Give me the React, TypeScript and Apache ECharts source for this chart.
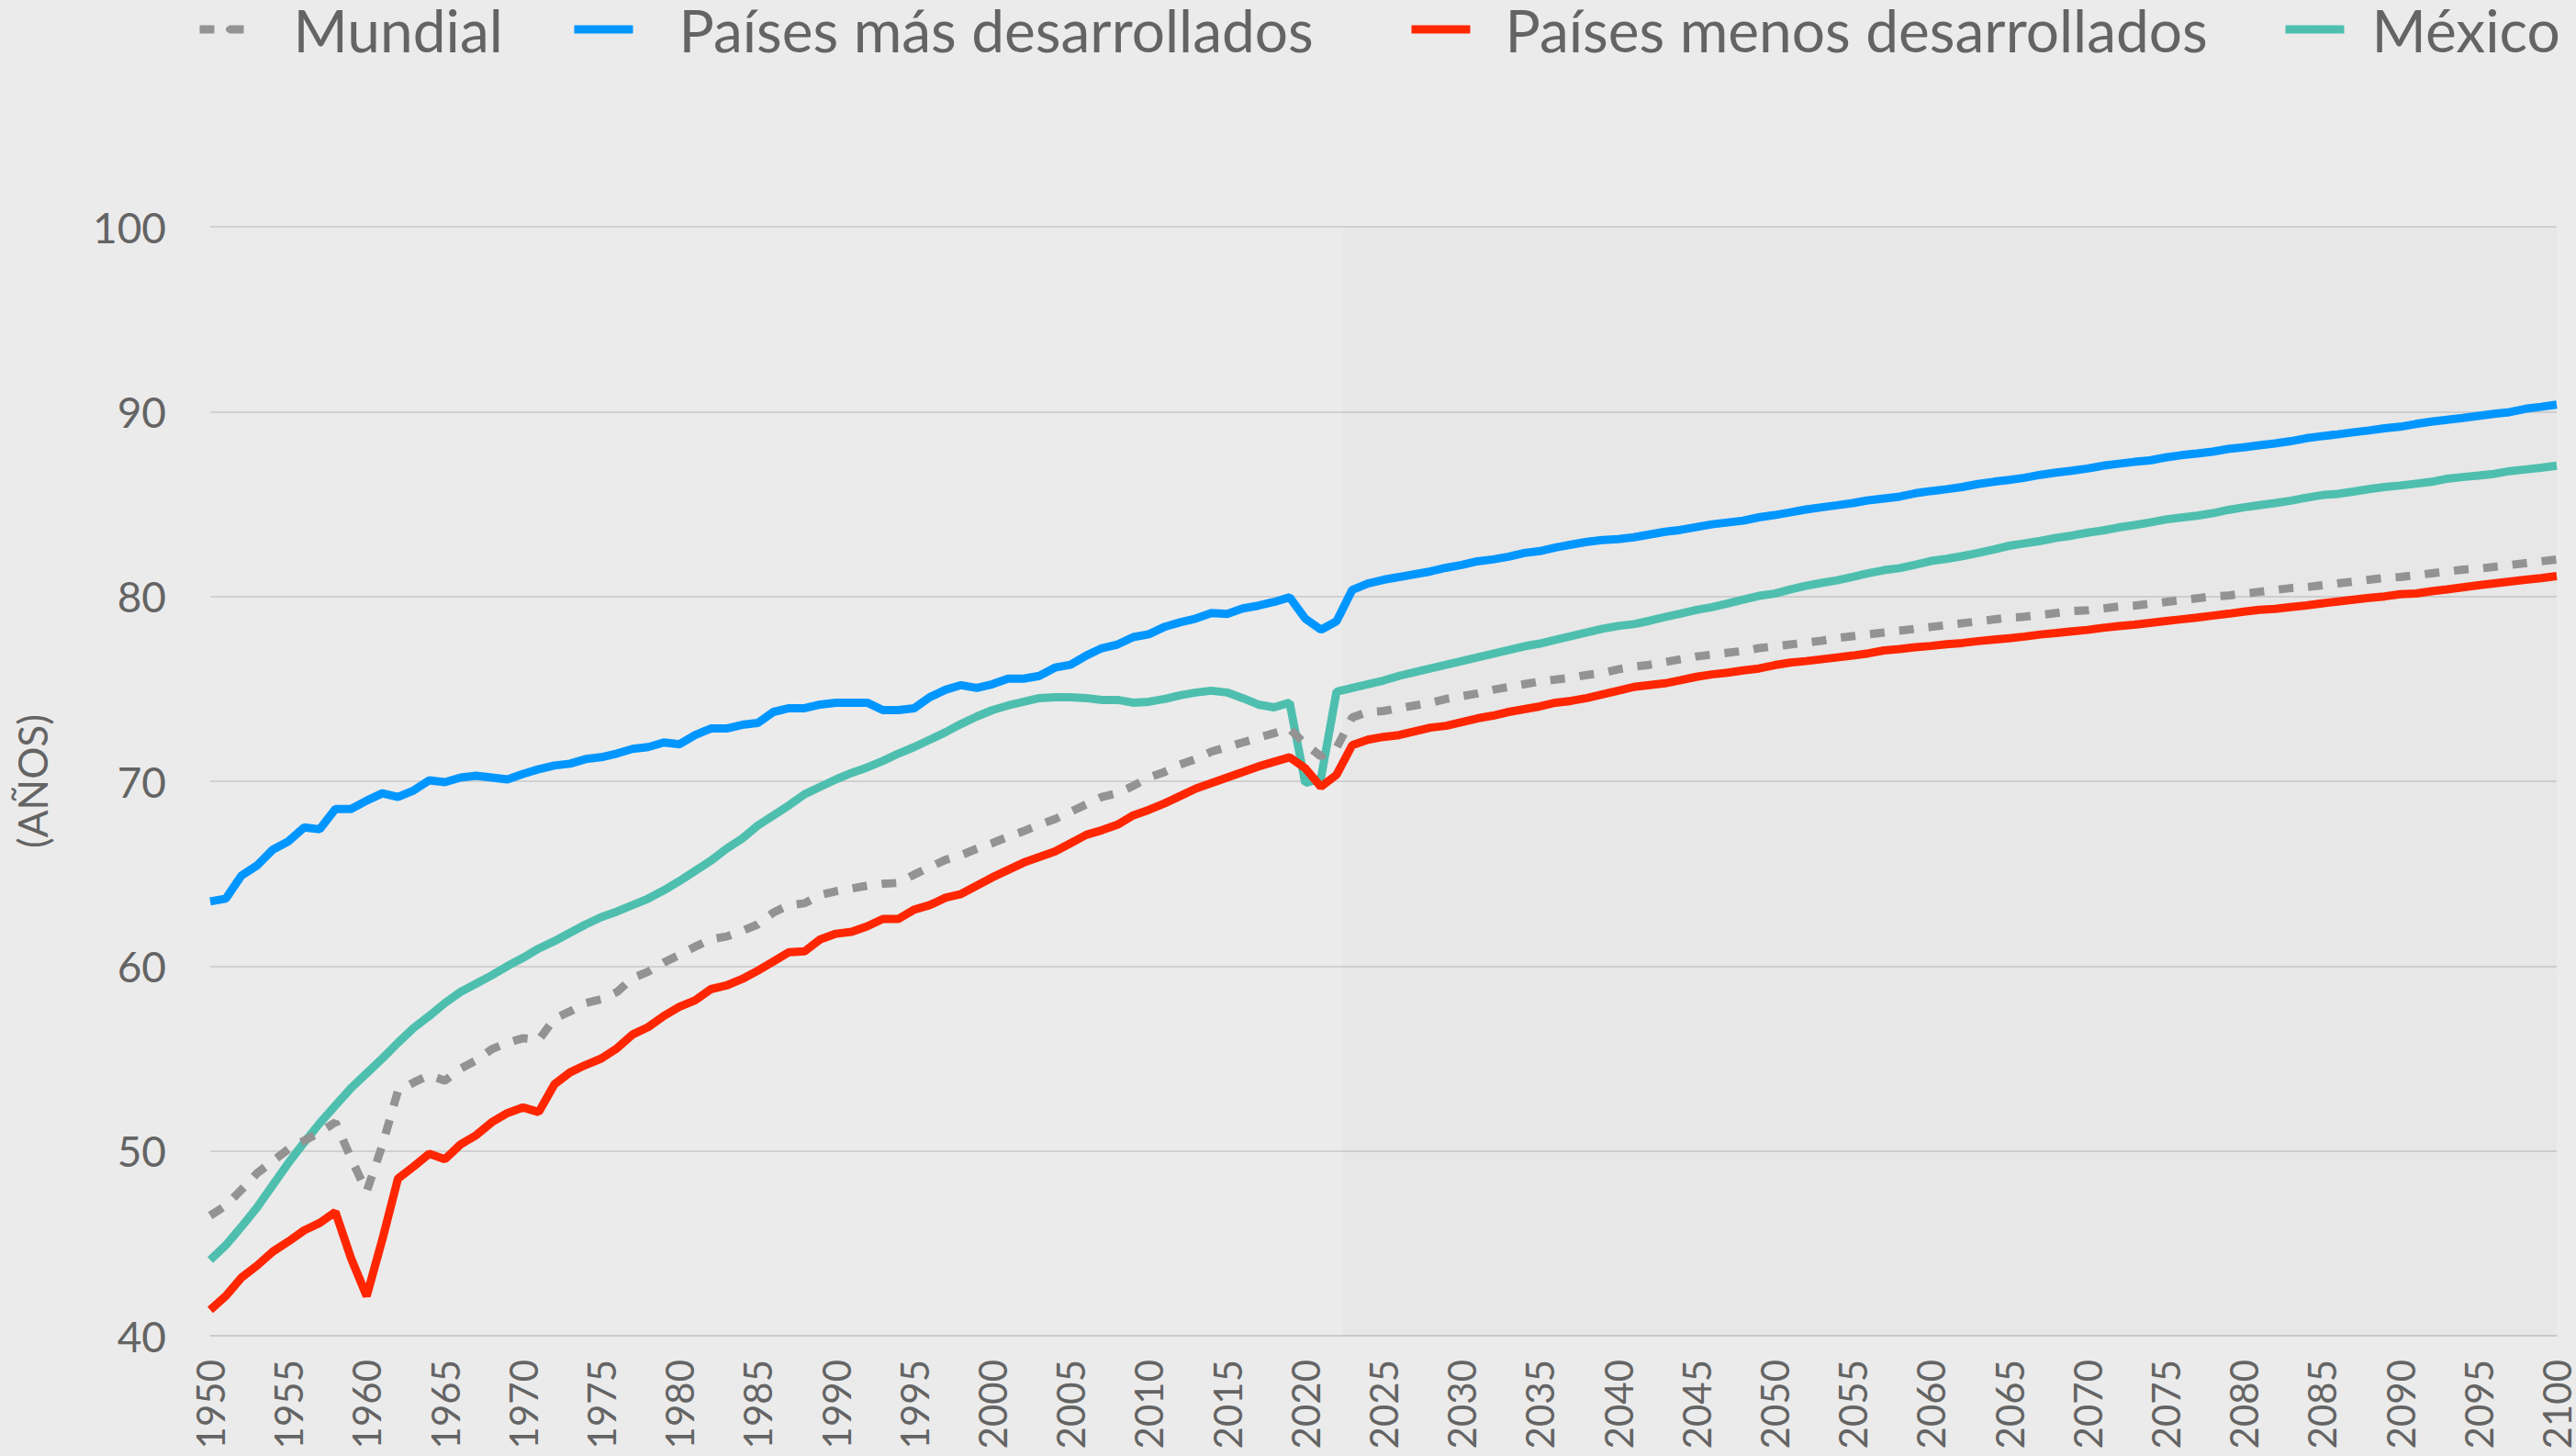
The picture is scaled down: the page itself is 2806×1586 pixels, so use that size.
import React, { useEffect, useRef } from "react";
import * as echarts from "echarts";

const START_YEAR = 1950;
const END_YEAR = 2100;
const PROJECTION_START = 2022.4;

const seriesNames = ["Mundial", "Países más desarrollados", "Países menos desarrollados", "México"];

const mundial = [
  46.5, 47.05, 47.9, 48.8, 49.45, 50.1, 50.55, 51.0, 51.55, 49.6, 47.8, 50.3, 53.25, 53.7, 54.1, 53.8, 54.45, 54.9, 55.5, 55.85, 56.1, 56.0, 57.15, 57.55, 58.0, 58.2, 58.6, 59.35, 59.7, 60.2, 60.6,
  61.05, 61.45, 61.6, 61.9, 62.25, 62.9, 63.3, 63.4, 63.85, 64.05, 64.2, 64.35, 64.45, 64.5, 64.95, 65.35, 65.75, 66.0, 66.35, 66.65, 67.0, 67.3, 67.65, 67.95, 68.35, 68.75, 69.15, 69.35, 69.75, 70.2,
  70.5, 70.9, 71.2, 71.6, 71.85, 72.1, 72.35, 72.6, 72.85, 72.0, 71.35, 71.8, 73.45, 73.75, 73.8, 73.95, 74.1, 74.25, 74.45, 74.6, 74.75, 74.95, 75.1, 75.25, 75.4, 75.5, 75.6, 75.75, 75.85, 76.05,
  76.2, 76.3, 76.45, 76.6, 76.75, 76.85, 76.95, 77.05, 77.2, 77.3, 77.4, 77.5, 77.6, 77.75, 77.85, 77.95, 78.05, 78.15, 78.25, 78.35, 78.45, 78.55, 78.65, 78.75, 78.85, 78.9, 79.0, 79.1, 79.2, 79.25,
  79.35, 79.45, 79.5, 79.6, 79.7, 79.8, 79.9, 80.0, 80.05, 80.15, 80.25, 80.35, 80.45, 80.5, 80.6, 80.7, 80.8, 80.9, 81.0, 81.05, 81.15, 81.25, 81.35, 81.45, 81.5, 81.6, 81.7, 81.8, 81.9, 82.0,
];

const masDesarrollados = [
  63.5, 63.65, 64.9, 65.45, 66.3, 66.75, 67.5, 67.4, 68.5, 68.5, 68.95, 69.35, 69.15, 69.5, 70.05, 69.95, 70.2, 70.3, 70.2, 70.1, 70.4, 70.65, 70.85, 70.95, 71.2, 71.3, 71.5, 71.75, 71.85, 72.1, 72.0,
  72.5, 72.85, 72.85, 73.05, 73.15, 73.75, 73.95, 73.95, 74.15, 74.25, 74.25, 74.25, 73.85, 73.85, 73.95, 74.55, 74.95, 75.2, 75.05, 75.25, 75.55, 75.55, 75.7, 76.15, 76.3, 76.8, 77.2, 77.4, 77.8, 77.95,
  78.35, 78.6, 78.8, 79.1, 79.05, 79.35, 79.5, 79.7, 79.95, 78.8, 78.2, 78.65, 80.35, 80.7, 80.9, 81.05, 81.2, 81.35, 81.55, 81.7, 81.9, 82.0, 82.15, 82.35, 82.45, 82.65, 82.8, 82.95, 83.05, 83.1,
  83.2, 83.35, 83.5, 83.6, 83.75, 83.9, 84.0, 84.1, 84.28, 84.4, 84.55, 84.7, 84.82, 84.93, 85.05, 85.2, 85.3, 85.4, 85.58, 85.7, 85.8, 85.92, 86.08, 86.2, 86.3, 86.42, 86.58, 86.7, 86.8, 86.92,
  87.07, 87.18, 87.28, 87.36, 87.52, 87.64, 87.73, 87.83, 87.98, 88.07, 88.18, 88.28, 88.4, 88.56, 88.67, 88.77, 88.88, 88.98, 89.1, 89.18, 89.33, 89.46, 89.56, 89.66, 89.77, 89.88, 89.97, 90.15, 90.26, 90.38,
];

const menosDesarrollados = [
  41.4, 42.15, 43.15, 43.8, 44.55, 45.1, 45.7, 46.1, 46.7, 44.2, 42.15, 45.2, 48.5, 49.15, 49.85, 49.55, 50.35, 50.85, 51.55, 52.05, 52.35, 52.1, 53.6, 54.25, 54.65, 55.0, 55.55, 56.3, 56.7, 57.3, 57.8,
  58.15, 58.75, 58.95, 59.3, 59.75, 60.25, 60.75, 60.8, 61.45, 61.75, 61.85, 62.15, 62.55, 62.55, 63.05, 63.3, 63.7, 63.9, 64.35, 64.8, 65.2, 65.6, 65.9, 66.2, 66.65, 67.1, 67.35, 67.65, 68.15, 68.45,
  68.8, 69.2, 69.6, 69.9, 70.2, 70.5, 70.8, 71.05, 71.3, 70.7, 69.7, 70.35, 71.95, 72.25, 72.4, 72.5, 72.7, 72.9, 73.0, 73.2, 73.4, 73.55, 73.75, 73.9, 74.05, 74.25, 74.35, 74.5, 74.7, 74.9,
  75.1, 75.2, 75.3, 75.47, 75.65, 75.78, 75.87, 76.0, 76.1, 76.28, 76.42, 76.5, 76.6, 76.7, 76.8, 76.92, 77.08, 77.15, 77.25, 77.32, 77.41, 77.48, 77.58, 77.66, 77.74, 77.83, 77.94, 78.02, 78.11, 78.19,
  78.3, 78.39, 78.47, 78.57, 78.67, 78.76, 78.85, 78.96, 79.06, 79.18, 79.28, 79.33, 79.42, 79.51, 79.62, 79.72, 79.82, 79.92, 80.0, 80.12, 80.16, 80.28, 80.38, 80.49, 80.6, 80.7, 80.8, 80.9, 80.99, 81.1,
];

const mexico = [
  44.1, 44.9, 45.9, 46.95, 48.15, 49.35, 50.45, 51.5, 52.45, 53.4, 54.2, 55.0, 55.85, 56.65, 57.3, 58.0, 58.6, 59.05, 59.5, 60.0, 60.45, 60.95, 61.35, 61.8, 62.25, 62.65, 62.95, 63.3, 63.65, 64.1, 64.6,
  65.15, 65.7, 66.35, 66.9, 67.6, 68.15, 68.7, 69.3, 69.7, 70.1, 70.45, 70.75, 71.1, 71.5, 71.85, 72.25, 72.65, 73.1, 73.5, 73.85, 74.1, 74.3, 74.5, 74.55, 74.55, 74.5, 74.4, 74.4, 74.25, 74.3,
  74.45, 74.65, 74.8, 74.9, 74.8, 74.5, 74.15, 74.0, 74.25, 69.9, 70.15, 74.85, 75.05, 75.25, 75.45, 75.7, 75.9, 76.1, 76.3, 76.5, 76.7, 76.9, 77.1, 77.3, 77.45, 77.65, 77.85, 78.05, 78.25, 78.4,
  78.5, 78.68, 78.88, 79.07, 79.27, 79.42, 79.62, 79.83, 80.03, 80.15, 80.37, 80.57, 80.73, 80.87, 81.06, 81.26, 81.42, 81.53, 81.72, 81.92, 82.03, 82.18, 82.35, 82.54, 82.74, 82.87, 83.0, 83.17, 83.29, 83.45,
  83.57, 83.73, 83.86, 84.0, 84.16, 84.27, 84.37, 84.5, 84.68, 84.82, 84.94, 85.05, 85.18, 85.34, 85.48, 85.55, 85.67, 85.81, 85.92, 86.0, 86.1, 86.2, 86.37, 86.46, 86.54, 86.63, 86.78, 86.87, 86.96, 87.07,
];

const years: number[] = [];
for (let y = START_YEAR; y <= END_YEAR; y++) years.push(y);

const pair = (vals: number[]) => vals.map((v, i) => [years[i], v]);

const FONT = "Lato";
const TEXT = "#646464";
const GRID = "#c9c9c9";
const LINE_W = 9;

const legendItem = (name: string, left: number, gap: number) => ({
  data: [name],
  left,
  top: 0,
  padding: 0,
  itemWidth: 64,
  itemHeight: 9,
  selectedMode: false,
  lineStyle: { width: LINE_W },
  textStyle: {
    fontFamily: FONT,
    fontSize: 64,
    lineHeight: 62,
    color: TEXT,
    padding: [0, 0, 0, gap],
  },
});

export default function App() {
  const ref = useRef<HTMLDivElement>(null);
  useEffect(() => {
    document.body.style.margin = "0";
    const chart = echarts.init(ref.current!, null, { renderer: "svg" });
    chart.setOption({
      animation: false,
      backgroundColor: "#ebebeb",
      legend: [
        legendItem(seriesNames[0], 213, 33),
        legendItem(seriesNames[1], 621, 45),
        legendItem(seriesNames[2], 1533, 33),
        legendItem(seriesNames[3], 2485, 25),
      ],
      grid: { left: 229, right: 20, top: 247, bottom: 131, containLabel: false },
      xAxis: {
        type: "value",
        min: START_YEAR,
        max: END_YEAR,
        interval: 5,
        axisLine: { show: true, lineStyle: { color: GRID, width: 1.5 } },
        axisTick: { show: false },
        splitLine: { show: false },
        axisLabel: {
          rotate: 90,
          margin: 26,
          fontSize: 42,
          fontFamily: FONT,
          color: TEXT,
          formatter: (v: number) => String(v),
        },
      },
      yAxis: {
        type: "value",
        min: 40,
        max: 100,
        interval: 10,
        axisLine: { show: false },
        axisTick: { show: false },
        splitLine: { lineStyle: { color: GRID, width: 1.5 } },
        axisLabel: { margin: 48, fontSize: 46, fontFamily: FONT, color: TEXT },
        name: "(AÑOS)",
        nameLocation: "middle",
        nameGap: 172,
        nameTextStyle: { fontSize: 44, fontFamily: FONT, color: TEXT },
      },
      series: [
        {
          name: seriesNames[0],
          type: "line",
          data: pair(mundial),
          showSymbol: false,
          symbol: "none",
          z: 4,
          lineStyle: { color: "#939393", width: LINE_W, type: [16, 16], cap: "butt" },
          itemStyle: { color: "#939393" },
        },
        {
          name: seriesNames[1],
          type: "line",
          data: pair(masDesarrollados),
          showSymbol: false,
          symbol: "none",
          z: 5,
          lineStyle: { color: "#0096ff", width: LINE_W },
          itemStyle: { color: "#0096ff" },
        },
        {
          name: seriesNames[2],
          type: "line",
          data: pair(menosDesarrollados),
          showSymbol: false,
          symbol: "none",
          z: 3,
          lineStyle: { color: "#ff2600", width: LINE_W },
          itemStyle: { color: "#ff2600" },
        },
        {
          name: seriesNames[3],
          type: "line",
          data: pair(mexico),
          showSymbol: false,
          symbol: "none",
          z: 2,
          lineStyle: { color: "#4ebfaf", width: LINE_W },
          itemStyle: { color: "#4ebfaf" },
          markArea: {
            silent: true,
            itemStyle: { color: "rgba(0,0,0,0.016)" },
            data: [[{ xAxis: PROJECTION_START }, { xAxis: END_YEAR }]],
          },
        },
      ],
    });
    return () => chart.dispose();
  }, []);
  return <div ref={ref} style={{ width: 2806, height: 1586 }} />;
}
